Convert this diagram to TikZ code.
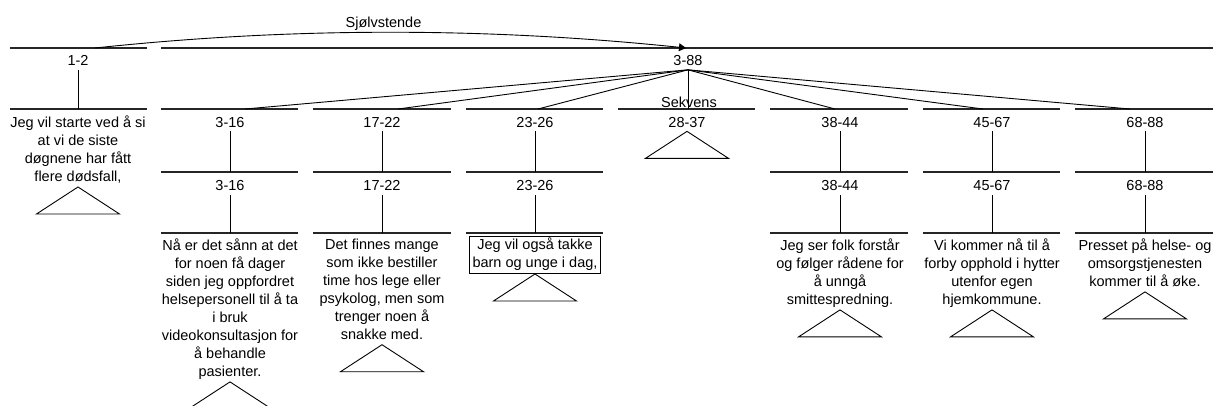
\documentclass[tikz,border=0pt]{standalone}
\usepackage{fontspec}
\setmainfont{Liberation Sans}
\usepackage{tikz}
\usetikzlibrary{arrows, calc, positioning}

\tikzset{
  bar/.style={line width=1.1pt, draw=black!85},
  rel/.style={line width=0.9pt},
  num/.style={font=\fontsize{14.5}{18}\selectfont, inner xsep=0pt, inner ysep=4pt, anchor=base},
  seg/.style={font=\fontsize{14.5}{18}\selectfont, align=center, inner sep=0pt, anchor=north,
    execute at begin node=\strut, execute at end node=\strut},
}

\begin{document}
\begin{tikzpicture}[x=1pt,y=-1pt]
	\useasboundingbox (0,0) rectangle (1213,405);

	\coordinate (r1) at (0,48);
	\coordinate (r2) at (0,109);
	\coordinate (r3) at (0,172);
	\coordinate (r4) at (0,233);

	\draw[bar] (10,48) -- (147,48) (161,48) -- (1213,48);
	\draw[bar] (10,109) -- (147,109) (161,109) -- (298,109) (313,109) -- (451,109) (466,109) -- (603,109)
		(618,109) -- (755,109) (770,109) -- (908,109) (923,109) -- (1060,109) (1075,109) -- (1213,109);
	\draw[bar] (161,172) -- (298,172) (313,172) -- (451,172) (466,172) -- (603,172)
		(770,172) -- (908,172) (923,172) -- (1060,172) (1075,172) -- (1213,172);
	\draw[bar] (161,233) -- (298,233) (313,233) -- (451,233) (466,233) -- (603,233)
		(770,233) -- (908,233) (923,233) -- (1060,233) (1075,233) -- (1213,233);

	\node[num] (sjl) at (383.5,27) {Sjølvstende};
	\coordinate (sjfrom) at (95,48);
	\coordinate (sjto) at (686,48);
	\draw[rel,-triangle 60] (sjfrom) .. controls (292,27) and (488,27) .. (sjto);

	\node[num] (n12) at (78,65.5) {1-2};
	\node[num] (n388) at (688,65.5) {3-88};

	\draw[rel] (n12.south) -- (n12.south |- r2);
	\node[seg] (t12) at (78,115.5) {Jeg vil starte ved å si\\at vi de siste\\døgnene har fått\\flere dødsfall,};
	\draw[rel] (t12.south) -- ++(-41.5,27) -- ++(83,0) -- cycle;

	\node[num] (n316) at (230,127) {3-16};
	\node[num] (n1722) at (382,127) {17-22};
	\node[num] (n2326) at (535,127) {23-26};
	\node[num] (n2837) at (687,127) {28-37};
	\node[num] (n3844) at (840,127) {38-44};
	\node[num] (n4567) at (992,127) {45-67};
	\node[num] (n6888) at (1145,127) {68-88};
	\node[num] (sek) at (689,107) {Sekvens};

	\coordinate (f316) at (245,109);
	\coordinate (f1722) at (398,109);
	\coordinate (f2326) at (538,109);
	\coordinate (f3844) at (835,109);
	\coordinate (f4567) at (983,109);
	\coordinate (f6888) at (1130,109);
	\draw[rel] (n388.south) -- (f316);
	\draw[rel] (n388.south) -- (f1722);
	\draw[rel] (n388.south) -- (f2326);
	\draw[rel] (n388.south) -- (n388.south |- r2);
	\draw[rel] (n388.south) -- (f3844);
	\draw[rel] (n388.south) -- (f4567);
	\draw[rel] (n388.south) -- (f6888);

	\draw[rel] (n316.south) -- (n316.south |- r3);
	\draw[rel] (n1722.south) -- (n1722.south |- r3);
	\draw[rel] (n2326.south) -- (n2326.south |- r3);
	\draw[rel] (n3844.south) -- (n3844.south |- r3);
	\draw[rel] (n4567.south) -- (n4567.south |- r3);
	\draw[rel] (n6888.south) -- (n6888.south |- r3);
	\draw[rel] (n2837.south) -- ++(-41.5,27) -- ++(83,0) -- cycle;

	\node[num] (m316) at (230,190.5) {3-16};
	\node[num] (m1722) at (382,190.5) {17-22};
	\node[num] (m2326) at (535,190.5) {23-26};
	\node[num] (m3844) at (840,190.5) {38-44};
	\node[num] (m4567) at (992,190.5) {45-67};
	\node[num] (m6888) at (1145,190.5) {68-88};

	\draw[rel] (m316.south) -- (m316.south |- r4);
	\draw[rel] (m1722.south) -- (m1722.south |- r4);
	\draw[rel] (m2326.south) -- (m2326.south |- r4);
	\draw[rel] (m3844.south) -- (m3844.south |- r4);
	\draw[rel] (m4567.south) -- (m4567.south |- r4);
	\draw[rel] (m6888.south) -- (m6888.south |- r4);

	\node[seg] (t316) at (230,238.4) {Nå er det sånn at det\\for noen få dager\\siden jeg oppfordret\\helsepersonell til å ta\\i bruk\\videokonsultasjon for\\å behandle\\pasienter.};
	\node[seg] (t1722) at (382,238.4) {Det finnes mange\\som ikke bestiller\\time hos lege eller\\psykolog, men som\\trenger noen å\\snakke med.};
	\node[seg, draw, line width=0.9pt, inner xsep=3pt, inner ysep=1pt] (t2326) at (535,236) {Jeg vil også takke\\barn og unge i dag,};
	\node[seg] (t3844) at (840,238.4) {Jeg ser folk forstår\\og følger rådene for\\å unngå\\smittespredning.};
	\node[seg] (t4567) at (992,238.4) {Vi kommer nå til å\\forby opphold i hytter\\utenfor egen\\hjemkommune.};
	\node[seg] (t6888) at (1145,238.4) {Presset på helse- og\\omsorgstjenesten\\kommer til å øke.};

	\draw[rel] (t316.south) -- ++(-41.5,27) -- ++(83,0) -- cycle;
	\draw[rel] (t1722.south) -- ++(-41.5,27) -- ++(83,0) -- cycle;
	\draw[rel] (t2326.south) -- ++(-41.5,27) -- ++(83,0) -- cycle;
	\draw[rel] (t3844.south) -- ++(-41.5,27) -- ++(83,0) -- cycle;
	\draw[rel] (t4567.south) -- ++(-41.5,27) -- ++(83,0) -- cycle;
	\draw[rel] (t6888.south) -- ++(-41.5,27) -- ++(83,0) -- cycle;
\end{tikzpicture}
\end{document}
